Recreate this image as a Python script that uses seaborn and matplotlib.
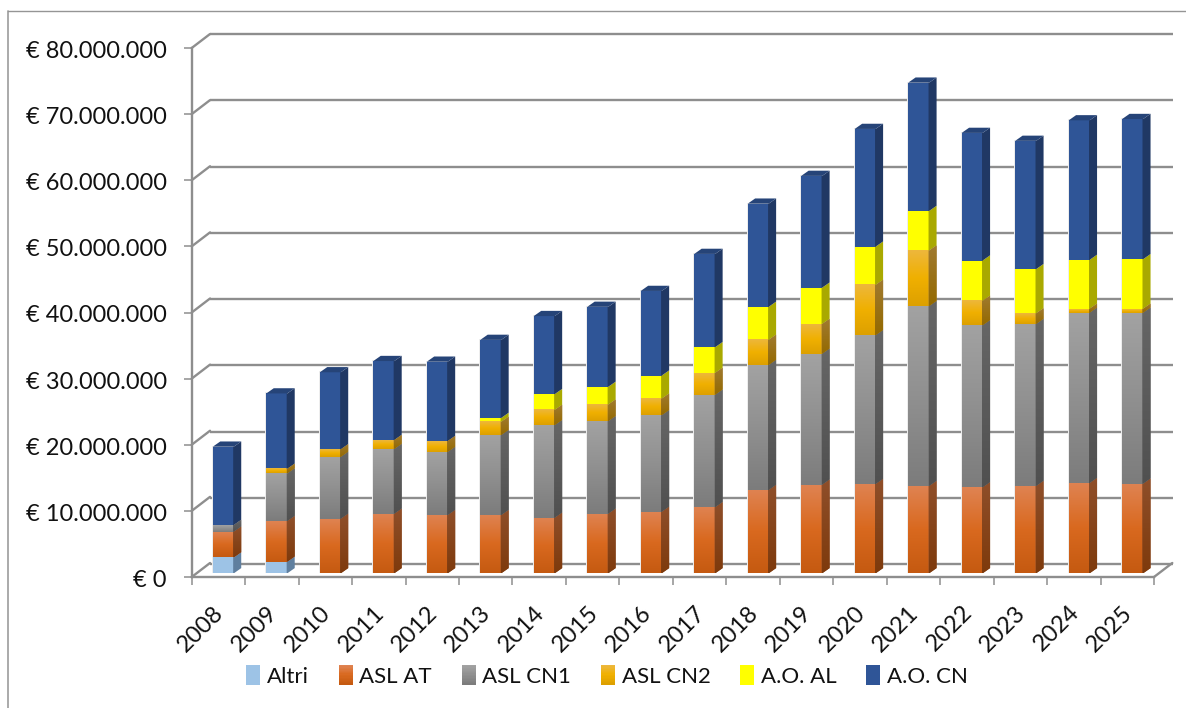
import numpy as np
import pandas as pd
import matplotlib
matplotlib.use("Agg")
import matplotlib.pyplot as plt
from matplotlib.colors import to_rgb, LinearSegmentedColormap
from matplotlib.lines import Line2D
from matplotlib.patches import Polygon, Rectangle, Patch
from matplotlib.legend_handler import HandlerBase
from matplotlib.ticker import FuncFormatter
from matplotlib.transforms import ScaledTranslation
import seaborn as sns

years = [str(y) for y in range(2008, 2026)]
altri = [2.4, 1.75, 0, 0, 0, 0, 0, 0, 0, 0, 0, 0, 0, 0, 0, 0, 0, 0]
asl_at = [3.9, 6.15, 8.25, 9.0, 8.8, 8.8, 8.4, 9.0, 9.3, 10.0, 12.6, 13.4, 13.5, 13.2, 13.0, 13.2, 13.65, 13.55]
asl_cn1 = [1.0, 7.2, 9.35, 9.8, 9.55, 12.1, 14.0, 14.0, 14.6, 17.0, 18.9, 19.8, 22.5, 27.2, 24.5, 24.5, 25.75, 25.85]
asl_cn2 = [0, 0.7, 1.15, 1.35, 1.65, 2.0, 2.3, 2.5, 2.5, 3.3, 3.8, 4.5, 7.6, 8.4, 3.7, 1.6, 0.6, 0.6]
ao_al = [0, 0, 0, 0, 0, 0.6, 2.4, 2.7, 3.5, 3.9, 5.0, 5.5, 5.8, 6.0, 6.1, 6.7, 7.4, 7.5]
ao_cn = [11.85, 11.4, 11.65, 11.95, 12.0, 11.8, 11.8, 12.1, 12.8, 14.1, 15.6, 16.9, 17.8, 19.4, 19.3, 19.4, 21.1, 21.2]
series_names = ["Altri", "ASL AT", "ASL CN1", "ASL CN2", "A.O. AL", "A.O. CN"]
series_vals = [altri, asl_at, asl_cn1, asl_cn2, ao_al, ao_cn]

# colours: front top, front middle, front bottom, side top, side bottom
palette = {
    "Altri":   ("#9DC3E6", "#9DC3E6", "#9DC3E6", "#5F7F9F", "#5F7F9F"),
    "ASL AT":  ("#DF8352", "#D9691F", "#C55A11", "#8F4F2A", "#7E3A0C"),
    "ASL CN1": ("#A2A2A2", "#909090", "#7C7C7C", "#666666", "#505050"),
    "ASL CN2": ("#EDB73C", "#F0B000", "#DDA000", "#A07A30", "#946A00"),
    "A.O. AL": ("#FFFF00", "#FFFF00", "#FFFF00", "#A9A900", "#A9A900"),
    "A.O. CN": ("#2F5597", "#2F5597", "#2F5597", "#203864", "#203864"),
}
TOP_CAP = "#264478"
GRID = "#8E8E8E"

W, H = 1186, 708
sns.set_theme(style="white")
plt.rcParams["font.family"] = ["Lato", "DejaVu Sans"]
fig = plt.figure(figsize=(W / 100, H / 100), dpi=100, facecolor="white")


def px_axes(left, right, top, bottom, z):
    ax = fig.add_axes([left / W, 1 - bottom / H, (right - left) / W, (bottom - top) / H], zorder=z)
    ax.set_xlim(-0.5, 17.5)
    ax.set_ylim(0, 80e6)
    ax.patch.set_alpha(0)
    return ax


# back wall, front axis plane, bar plane
wall = px_axes(210, 1173.5, 34, 564, 1)
front = px_axes(191.7, 1154, 48, 577, 2)
bars = px_axes(196.6, 1159.4, 44.3, 573.3, 3)

# back wall gridlines
wall.set_xticks([])
wall.set_yticks(np.arange(0, 81, 10) * 1e6)
wall.set_yticklabels([])
wall.tick_params(length=0)
wall.grid(False)
for v in wall.get_yticks():
    wall.plot([-0.5, 17.5], [v, v], color=GRID, lw=1.7, clip_on=False, solid_capstyle="butt")
for s in wall.spines.values():
    s.set_visible(False)

# front plane axis, ticks, labels
pos = np.arange(len(years))
front.set_yticks(np.arange(0, 81, 10) * 1e6)
front.yaxis.set_major_formatter(FuncFormatter(
    lambda v, _: "€ 0" if v == 0 else "€ " + f"{int(round(v)):,}".replace(",", ".")))
front.set_xticks(pos)
front.set_xticklabels(years, rotation=45, ha="right", rotation_mode="anchor")
front.set_xticks(np.arange(-0.5, 18, 1), minor=True)
front.tick_params(axis="x", which="major", length=0, pad=20, labelsize=17, labelcolor="#111111")
front.tick_params(axis="x", which="minor", length=6, width=1.1, color=GRID, bottom=True)
front.tick_params(axis="y", length=6, width=1.1, color=GRID, left=True, pad=12, labelsize=17, labelcolor="#111111")
for lab in front.get_xticklabels():
    lab.set_transform(lab.get_transform() + ScaledTranslation(-5.5 / 100, 3 / 100, fig.dpi_scale_trans))
for lab in front.get_yticklabels():
    lab.set_transform(lab.get_transform() + ScaledTranslation(0, -1.5 / 100, fig.dpi_scale_trans))
for name in ("top", "right"):
    front.spines[name].set_visible(False)
for name in ("left", "bottom"):
    front.spines[name].set_color(GRID)
    front.spines[name].set_linewidth(1.7)
dx_w = (210 - 191.7) / ((1154 - 191.7) / 18)
dy_w = 14 / (529 / 80e6)
for v in front.get_yticks():
    front.plot([-0.5, -0.5 + dx_w], [v, v + dy_w], color=GRID, lw=1.7, clip_on=False)
front.plot([17.5, 17.5 + dx_w], [0, dy_w], color=GRID, lw=1.7, clip_on=False)

# stacked bars
df = pd.DataFrame({"year": years, **{n: np.array(v) * 1e6 for n, v in zip(series_names, series_vals)}})
BAR_W = 0.392
DX = 7.4 / ((1154 - 191.7) / 18)
DY = 5.2 / (529 / 80e6)
LAP = 0.012  # side face overlaps the front face so no pale seam appears
bottom = np.zeros(len(years))


def gradient(ax, extent, stops, z, clip=None):
    cmap = LinearSegmentedColormap.from_list("g", [to_rgb(c) for c in stops])
    im = ax.imshow(np.linspace(0, 1, 64).reshape(-1, 1), cmap=cmap, vmin=0, vmax=1, extent=extent,
                   origin="upper", aspect="auto", zorder=z, interpolation="bilinear")
    if clip is not None:
        im.set_clip_path(clip)


for name in series_names:
    vals = df[name].to_numpy()
    col = palette[name]
    sns.barplot(data=df, x="year", y=name, ax=bars, color=col[1], saturation=1, width=BAR_W,
                bottom=bottom, order=years, zorder=3, linewidth=0)
    for i, (b, v) in enumerate(zip(bottom, vals)):
        if v <= 0:
            continue
        x0, x1 = i - BAR_W / 2, i + BAR_W / 2
        # soft light halo behind the face
        bars.add_patch(Rectangle((x0, b), BAR_W, v, fill=False, ec="#EDEDED", lw=1.4, zorder=2.5))
        # front face shading
        if len(set(col[:3])) > 1:
            gradient(bars, [x0, x1, b, b + v], col[:3], 4)
        # side face
        side = Polygon([(x1 - LAP, b), (x1, b), (x1 + DX, b + DY), (x1 + DX, b + v + DY), (x1, b + v), (x1 - LAP, b + v)],
                       closed=True, fc=col[3], ec="none", zorder=4, transform=bars.transData)
        bars.add_patch(side)
        if col[3] != col[4]:
            gradient(bars, [x1 - LAP, x1 + DX, b, b + v + DY], col[3:], 4.1, clip=side)
    bottom = bottom + vals

for i, t in enumerate(bottom):
    x0, x1 = i - BAR_W / 2, i + BAR_W / 2
    bars.add_patch(Polygon([(x0, t), (x0 + DX, t + DY), (x1 + DX, t + DY), (x1, t)],
                           closed=True, fc=TOP_CAP, ec="none", zorder=4))
bars.set_xlim(-0.5, 17.5)
bars.set_ylim(0, 80e6)
bars.axis("off")


# legend with shaded swatches
class GradHandler(HandlerBase):
    def create_artists(self, legend, orig, xd, yd, width, height, fontsize, trans):
        stops = [np.array(to_rgb(c)) for c in orig.stops]
        n = 14
        out = []
        for k in range(n):
            f = k / (n - 1) * (len(stops) - 1)
            j = min(int(f), len(stops) - 2)
            c = stops[j] + (stops[j + 1] - stops[j]) * (f - j)
            out.append(Rectangle((-xd, -yd + height * (1 - (k + 1) / n)), width, height / n + 0.2,
                                 fc=c, ec="none", transform=trans))
        return out


handles = []
for name in series_names:
    p = Patch(label=name)
    p.stops = palette[name][:3]
    handles.append(p)
fig.legend(handles=handles, handler_map={Patch: GradHandler()}, loc="center",
           bbox_to_anchor=(607 / W, 1 - 676 / H), ncol=6, frameon=False, fontsize=16,
           labelcolor="#111111", handlelength=0.63, handleheight=1.0, handletextpad=0.3,
           columnspacing=1.335, borderpad=0)

# chart area border
fig.add_artist(Line2D([7.7 / W, 7.7 / W], [0, 1 - 10.7 / H], color="#A4A4A4", lw=1.3))
fig.add_artist(Line2D([7.7 / W, 1], [1 - 10.7 / H, 1 - 10.7 / H], color="#959595", lw=1.0))

fig.savefig("out.png", dpi=100)
